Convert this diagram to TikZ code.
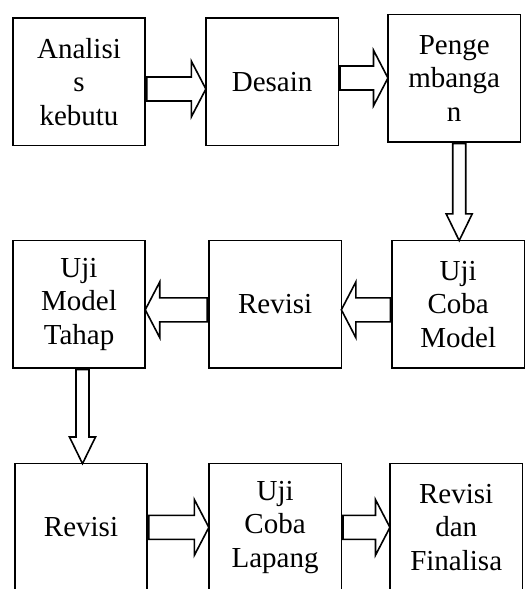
\documentclass[tikz,border=0pt]{standalone}
\usepackage{fontspec}
\setmainfont{Liberation Serif}
\usetikzlibrary{positioning,shapes.arrows}

\begin{document}
\begin{tikzpicture}[
  x=1pt, y=1pt,
  box/.style={draw, line width=1.6pt, minimum width=132.5pt, minimum height=127.5pt,
    inner sep=0pt, align=center, font=\fontsize{29}{33.5}\selectfont},
  harr/.style={single arrow, draw, line width=1.6pt, inner xsep=0pt, inner ysep=11.2pt,
    sloped, allow upside down, pos=0, anchor=tail,
    single arrow head extend=15.8pt, single arrow tip angle=125},
  varr/.style={harr, inner ysep=5.7pt, single arrow head extend=6.5pt, single arrow tip angle=52}
]
  \path[use as bounding box, clip] (0,0) rectangle (527,-589);

  \node[box] (anal) at (79,-81.7) {Analisi\\s\\kebutu};
  \node[box, right=59pt of anal] (desain) {Desain};
  \node[box, right=48pt of desain, yshift=3.5pt] (peng) {Penge\\mbanga\\n};

  \node[box, below=93.5pt of anal] (ujimt) {Uji\\Model\\Tahap};
  \node[box, right=62pt of ujimt] (rev1) {Revisi};
  \node[box, right=49pt of rev1] (ujicm) {Uji\\Coba\\Model};

  \node[box, below=94pt of ujimt, xshift=2pt] (rev2) {Revisi};
  \node[box, right=60pt of rev2] (ujilap) {Uji\\Coba\\Lapang};
  \node[box, right=47pt of ujilap] (final) {Revisi\\dan\\Finalisa};

  \path ([yshift=-7.3pt]anal.east) -- node[harr, minimum height=59pt] (a1) {} ([yshift=-7.3pt]anal.east -| desain.west);
  \path ([yshift=3.7pt]desain.east) -- node[harr, minimum height=48pt] (a2) {} ([yshift=3.7pt]desain.east -| peng.west);
  \path ([xshift=5pt]peng.south) -- node[varr, minimum height=97pt] (a3) {} ([xshift=5pt]peng.south |- ujicm.north);
  \path ([yshift=-5.5pt]ujicm.west) -- node[harr, minimum height=49pt] (a4) {} ([yshift=-5.5pt]ujicm.west -| rev1.east);
  \path ([yshift=-5.5pt]rev1.west) -- node[harr, minimum height=62pt] (a5) {} ([yshift=-5.5pt]rev1.west -| ujimt.east);
  \path ([xshift=3.5pt]ujimt.south) -- node[varr, minimum height=94pt] (a6) {} ([xshift=3.5pt]ujimt.south |- rev2.north);
  \path (rev2.east) -- node[harr, minimum height=60pt] (a7) {} (rev2.east -| ujilap.west);
  \path (ujilap.east) -- node[harr, minimum height=47pt] (a8) {} (ujilap.east -| final.west);
\end{tikzpicture}
\end{document}
